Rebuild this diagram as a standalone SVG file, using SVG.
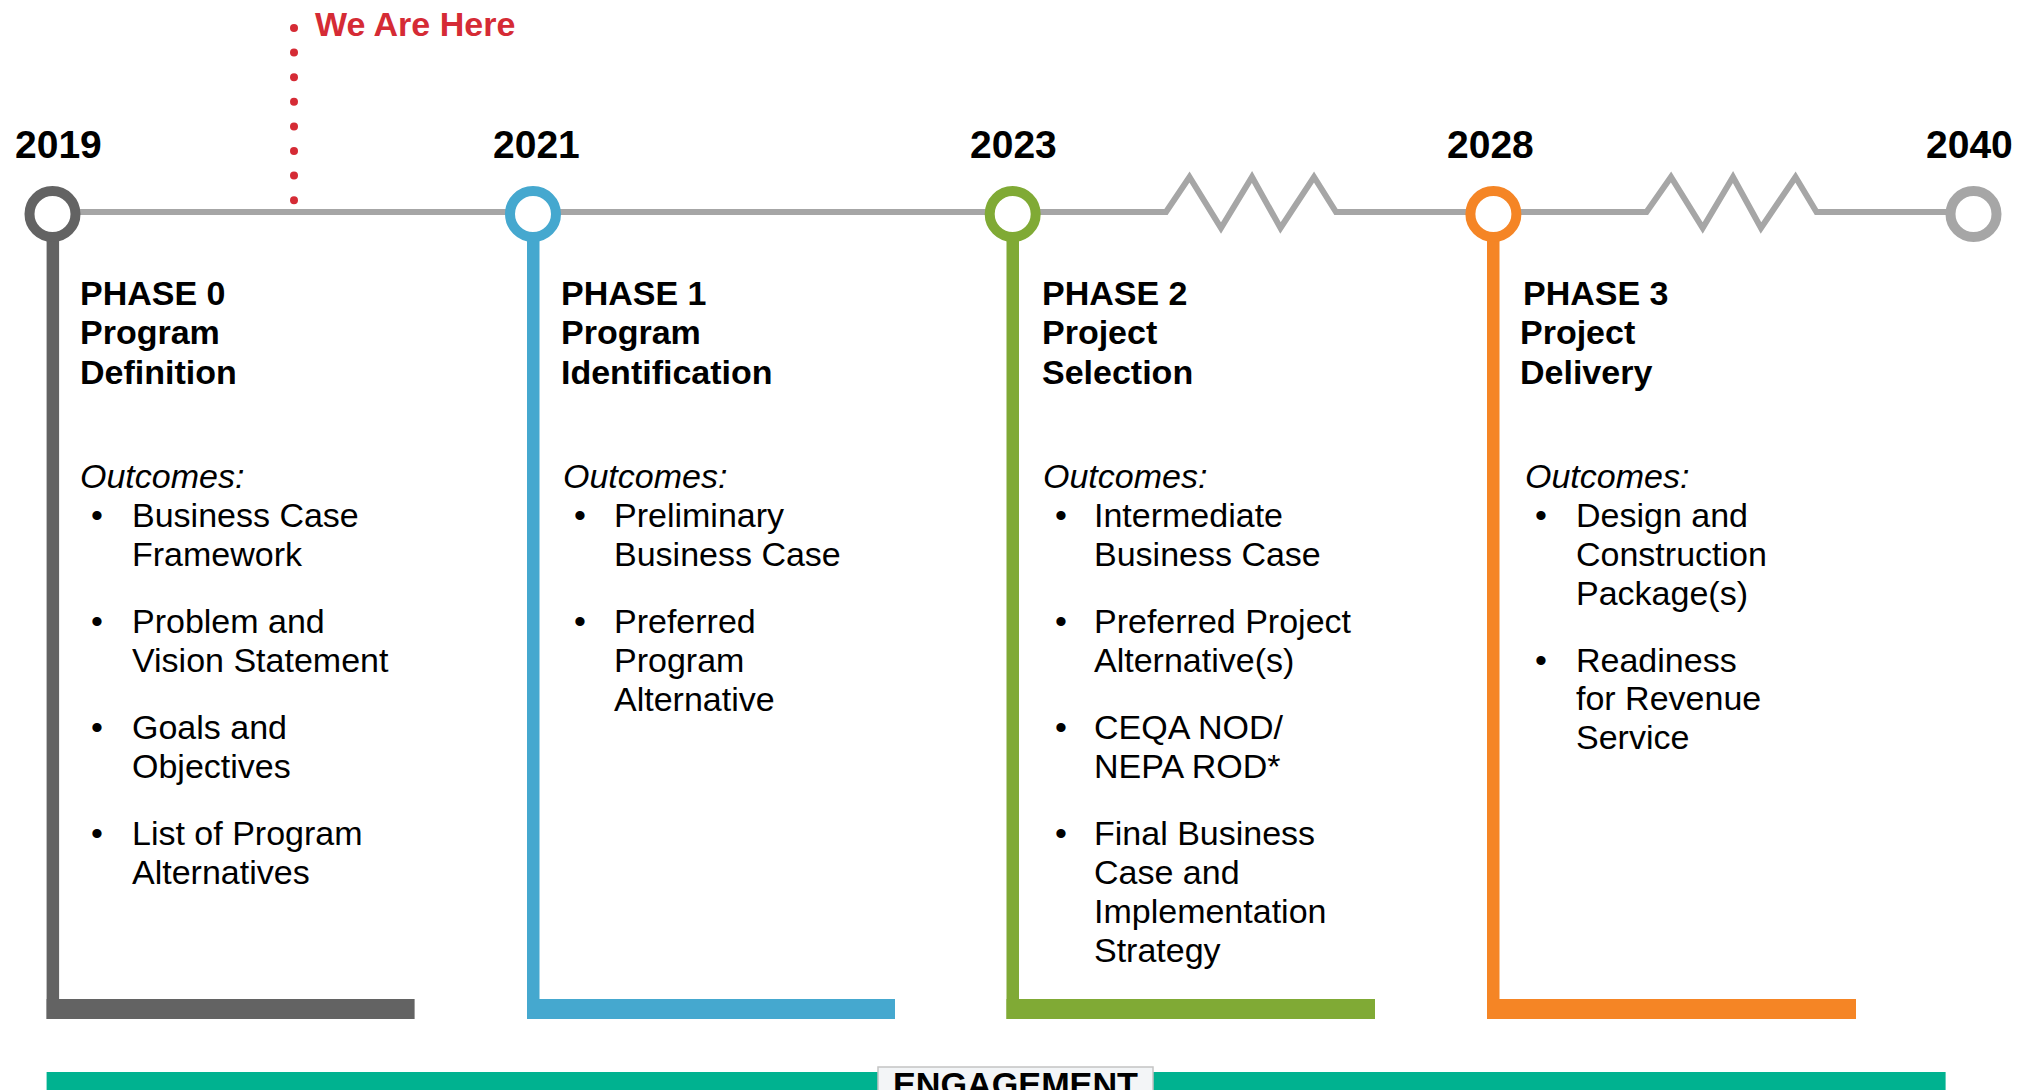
<svg xmlns="http://www.w3.org/2000/svg" width="2018" height="1090" viewBox="0 0 2018 1090">
  <style>
    text { font-family: "Liberation Sans", Arial, sans-serif; fill: #000; }
    .yr { font-size: 39px; font-weight: bold; }
    .hd { font-size: 34px; font-weight: bold; }
    .oc { font-size: 34px; font-style: italic; }
    .bt { font-size: 34px; }
    .bl { font-size: 34px; text-anchor: middle; }
    .ring { fill: #fff; stroke-width: 10; }
    .timeline { fill: none; stroke: #a6a6a6; stroke-width: 6; stroke-linejoin: miter; }
  </style>
  <rect width="2018" height="1090" fill="#fff"/>

  <g id="connectors">
    <polyline class="timeline" points="52,212 1166,212 1189.5,177 1221,228 1252,177 1280.5,228 1314,177 1336,212 1646.5,212 1671,177 1702.7,228 1733,177 1761,228 1795.5,177 1816.5,212 1973,212"/>
  </g>

  <g id="we-are-here">
    <g fill="#d52b35">
      <circle cx="294" cy="28" r="4"/>
      <circle cx="294" cy="52.6" r="4"/>
      <circle cx="294" cy="77.2" r="4"/>
      <circle cx="294" cy="101.8" r="4"/>
      <circle cx="294" cy="126.4" r="4"/>
      <circle cx="294" cy="151" r="4"/>
      <circle cx="294" cy="175.6" r="4"/>
      <circle cx="294" cy="200.2" r="4"/>
    </g>
    <text x="315" y="36" style="font-size:34px;font-weight:bold;fill:#d52b35">We Are Here</text>
  </g>

  <g id="years">
    <text class="yr" x="15" y="158">2019</text>
    <text class="yr" x="493" y="158">2021</text>
    <text class="yr" x="970" y="158">2023</text>
    <text class="yr" x="1447" y="158">2028</text>
    <text class="yr" x="1926" y="158">2040</text>
  </g>

  <g id="phase0">
    <rect x="46.6" y="230" width="12.5" height="789" fill="#636363"/>
    <rect x="46.6" y="999" width="368" height="20" fill="#636363"/>
    <circle class="ring" cx="52.5" cy="214" r="23" stroke="#636363"/>
    <text class="hd" x="80" y="305">PHASE 0</text>
    <text class="hd" x="80" y="344">Program</text>
    <text class="hd" x="80" y="383.5">Definition</text>
    <text class="oc" x="80" y="488">Outcomes:</text>
    <text class="bl" x="97" y="527">•</text>
    <text class="bt" x="132" y="527">Business Case</text>
    <text class="bt" x="132" y="566">Framework</text>
    <text class="bl" x="97" y="633">•</text>
    <text class="bt" x="132" y="633">Problem and</text>
    <text class="bt" x="132" y="672">Vision Statement</text>
    <text class="bl" x="97" y="739">•</text>
    <text class="bt" x="132" y="739">Goals and</text>
    <text class="bt" x="132" y="778">Objectives</text>
    <text class="bl" x="97" y="845">•</text>
    <text class="bt" x="132" y="845">List of Program</text>
    <text class="bt" x="132" y="884">Alternatives</text>
  </g>

  <g id="phase1">
    <rect x="527" y="230" width="12.5" height="789" fill="#45a8cf"/>
    <rect x="527" y="999" width="368" height="20" fill="#45a8cf"/>
    <circle class="ring" cx="533" cy="214" r="23" stroke="#45a8cf"/>
    <text class="hd" x="561" y="305">PHASE 1</text>
    <text class="hd" x="561" y="344">Program</text>
    <text class="hd" x="561" y="383.5">Identification</text>
    <text class="oc" x="563" y="488">Outcomes:</text>
    <text class="bl" x="580" y="527">•</text>
    <text class="bt" x="614" y="527">Preliminary</text>
    <text class="bt" x="614" y="566">Business Case</text>
    <text class="bl" x="580" y="633">•</text>
    <text class="bt" x="614" y="633">Preferred</text>
    <text class="bt" x="614" y="672">Program</text>
    <text class="bt" x="614" y="711">Alternative</text>
  </g>

  <g id="phase2">
    <rect x="1006.5" y="230" width="12.5" height="789" fill="#80aa35"/>
    <rect x="1006.5" y="999" width="368.5" height="20" fill="#80aa35"/>
    <circle class="ring" cx="1012.7" cy="214" r="23" stroke="#80aa35"/>
    <text class="hd" x="1042" y="305">PHASE 2</text>
    <text class="hd" x="1042" y="344">Project</text>
    <text class="hd" x="1042" y="383.5">Selection</text>
    <text class="oc" x="1043" y="488">Outcomes:</text>
    <text class="bl" x="1061" y="527">•</text>
    <text class="bt" x="1094" y="527">Intermediate</text>
    <text class="bt" x="1094" y="566">Business Case</text>
    <text class="bl" x="1061" y="633">•</text>
    <text class="bt" x="1094" y="633">Preferred Project</text>
    <text class="bt" x="1094" y="672">Alternative(s)</text>
    <text class="bl" x="1061" y="739">•</text>
    <text class="bt" x="1094" y="739">CEQA NOD/</text>
    <text class="bt" x="1094" y="778">NEPA ROD*</text>
    <text class="bl" x="1061" y="845">•</text>
    <text class="bt" x="1094" y="845">Final Business</text>
    <text class="bt" x="1094" y="884">Case and</text>
    <text class="bt" x="1094" y="923">Implementation</text>
    <text class="bt" x="1094" y="962">Strategy</text>
  </g>

  <g id="phase3">
    <rect x="1487" y="230" width="12.5" height="789" fill="#f58525"/>
    <rect x="1487" y="999" width="369" height="20" fill="#f58525"/>
    <circle class="ring" cx="1493.4" cy="214" r="23" stroke="#f58525"/>
    <text class="hd" x="1523" y="305">PHASE 3</text>
    <text class="hd" x="1520" y="344">Project</text>
    <text class="hd" x="1520" y="383.5">Delivery</text>
    <text class="oc" x="1525" y="488">Outcomes:</text>
    <text class="bl" x="1541" y="527">•</text>
    <text class="bt" x="1576" y="527">Design and</text>
    <text class="bt" x="1576" y="566">Construction</text>
    <text class="bt" x="1576" y="604.5">Package(s)</text>
    <text class="bl" x="1541" y="671.5">•</text>
    <text class="bt" x="1576" y="671.5">Readiness</text>
    <text class="bt" x="1576" y="710">for Revenue</text>
    <text class="bt" x="1576" y="748.5">Service</text>
  </g>

  <g id="end-2040">
    <circle class="ring" cx="1973.5" cy="214" r="23" stroke="#a6a6a6"/>
  </g>

  <g id="engagement">
    <rect x="46.6" y="1072" width="1899" height="30" fill="#00b290"/>
    <rect x="878" y="1067" width="275" height="35" fill="#f3f5f7" stroke="#c4c4c4" stroke-width="1.5"/>
    <text x="893" y="1096" style="font-size:34px;font-weight:bold" textLength="245" lengthAdjust="spacingAndGlyphs">ENGAGEMENT</text>
  </g>
</svg>
